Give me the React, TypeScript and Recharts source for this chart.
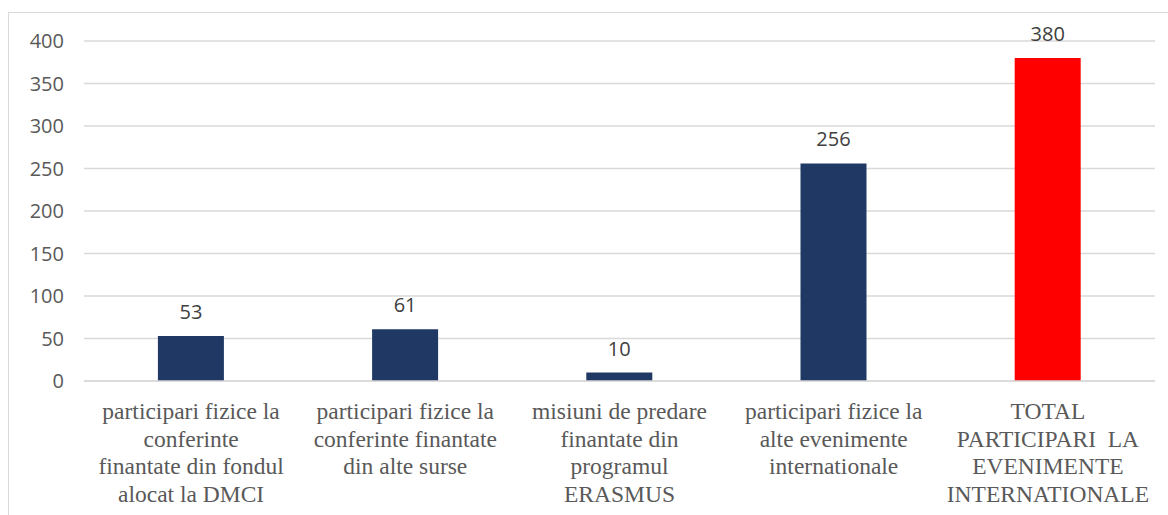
import { BarChart, Bar, XAxis, YAxis, CartesianGrid, LabelList, Cell } from "recharts";

const CATEGORIES = [
  "participari fizice la\nconferinte\nfinantate din fondul\nalocat la DMCI",
  "participari fizice la\nconferinte finantate\ndin alte surse",
  "misiuni de predare\nfinantate din\nprogramul\nERASMUS",
  "participari fizice la\nalte evenimente\ninternationale",
  "TOTAL\nPARTICIPARI  LA\nEVENIMENTE\nINTERNATIONALE",
];
const VALUES = [53, 61, 10, 256, 380];
const BAR_COLORS = ["#1F3864", "#1F3864", "#1F3864", "#1F3864", "#FF0000"];
const Y_TICKS = [0, 50, 100, 150, 200, 250, 300, 350, 400];

const data = CATEGORIES.map((name, i) => ({ name, value: VALUES[i] }));

const SANS = "'Open Sans', sans-serif";
const SERIF = "'Liberation Serif', 'Times New Roman', serif";

function YTick({ x, y, payload }: any) {
  return (
    <text x={x - 12} y={y} dy={7} textAnchor="end" fill="#595959" fontSize={20} fontFamily={SANS}>
      {payload.value}
    </text>
  );
}

function XTick({ x, y, payload }: any) {
  const lines = String(payload.value).split("\n");
  return (
    <text x={x} y={y} textAnchor="middle" fill="#595959" fontSize={23.5} fontFamily={SERIF} style={{ whiteSpace: "pre" }}>
      {lines.map((l, i) => (
        <tspan key={i} x={x} y={y + 30 + i * 27.7}>
          {l}
        </tspan>
      ))}
    </text>
  );
}

function ValueLabel({ x, y, width, value }: any) {
  return (
    <text x={x + width / 2} y={y - 24} dy={7} textAnchor="middle" fill="#404040" fontSize={20} fontFamily={SANS}>
      {value}
    </text>
  );
}

export default function App() {
  return (
    <div style={{ position: "absolute", left: 0, top: 0, width: 1168, height: 515, background: "#fff" }}>
      <div
        style={{
          position: "absolute",
          left: 8,
          top: 12,
          width: 1160,
          height: 503,
          borderLeft: "1px solid #d9d9d9",
          borderTop: "1px solid #d9d9d9",
        }}
      />
      <BarChart
        width={1168}
        height={515}
        data={data}
        margin={{ top: 41, right: 13, bottom: 0, left: 0 }}
        barCategoryGap="34.5%"
      >
        <CartesianGrid vertical={false} stroke="#d9d9d9" strokeWidth={1.5} />
        <XAxis
          dataKey="name"
          interval={0}
          height={134}
          axisLine={{ stroke: "#d9d9d9", strokeWidth: 1.5 }}
          tickLine={false}
          tick={<XTick />}
        />
        <YAxis
          width={84}
          domain={[0, 400]}
          ticks={Y_TICKS}
          axisLine={false}
          tickLine={false}
          tick={<YTick />}
        />
        <Bar dataKey="value" isAnimationActive={false}>
          {data.map((d, i) => (
            <Cell key={d.name} fill={BAR_COLORS[i]} />
          ))}
          <LabelList dataKey="value" content={<ValueLabel />} />
        </Bar>
      </BarChart>
    </div>
  );
}
